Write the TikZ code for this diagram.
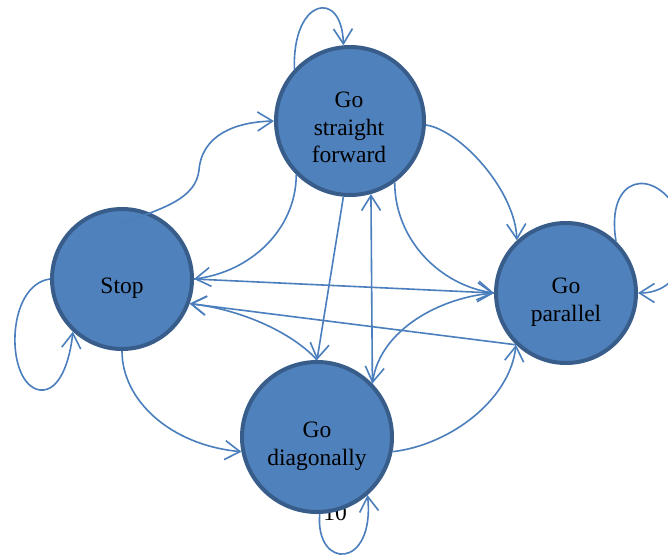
\documentclass[tikz,border=0pt]{standalone}
\usepackage{fontspec}
\setmainfont{Liberation Serif}
\usetikzlibrary{arrows.meta,calc}
\definecolor{stfill}{RGB}{79,129,189}
\definecolor{stedge}{RGB}{56,93,138}
\definecolor{arcblue}{RGB}{74,126,189}
\begin{document}
\begin{tikzpicture}[x=1pt,y=-1pt,
  state/.style={circle,draw=stedge,fill=stfill,line width=4pt,inner sep=0pt},
  stname/.style={align=center,font=\fontsize{23.5}{27.5}\selectfont,inner sep=0pt},
  conn/.style={draw=arcblue,line width=1.6pt,-{Straight Barb[length=15pt,width=19pt]}}]
\useasboundingbox (0,0) rectangle (668,555);
\clip (0,0) rectangle (668,555);
\fill[white] (0,0) rectangle (668,555);

% page number, partly hidden behind the lower state
\node[stname,anchor=base] (pageno) at (335,520) {10};

% states
\node[state,minimum size=140pt] (stop) at (122,279) {};
\node[state,minimum size=148pt] (sf)   at (350,121) {};
\node[state,minimum size=140pt] (par)  at (566,293) {};
\node[state,minimum size=150pt] (diag) at (317,437) {};

% self loops
\draw[conn] (sf.137) .. controls (292,-2) and (342,-12) .. (sf.95);
\draw[conn] (stop.180) .. controls (5,285) and (5,385) .. (40,390)
            .. controls (60,392) and (70,360) .. (stop.-133);
\draw[conn] (par.46) .. controls (605,175) and (655,165) .. (680,215)
            .. controls (695,250) and (680,293) .. (par.0);
\draw[conn] (diag.-88) .. controls (315,570) and (375,570) .. (diag.-49);

% transitions
\draw[conn] ($(stop.center)+(0,-56)$) .. controls (165,208) and (196,198) .. (199,170)
            .. controls (202,135) and (235,122) .. (sf.180);
\draw[conn] (sf.-135) .. controls (296,230) and (250,272) .. (stop.0);
\draw[conn] (stop.0) -- (par.180);
\draw[conn] (par.-134) -- (stop.-20);
\draw[conn] (diag.90) .. controls (295,335) and (245,310) .. (stop.-20);
\draw[conn] (stop.-90) .. controls (122,400) and (170,445) .. (diag.-169);
\draw[conn] (sf.-95) -- (diag.90);
\draw[conn] (diag.44) -- (sf.-74);
\draw[conn] (par.180) .. controls (440,297) and (380,330) .. (diag.44);
\draw[conn] (diag.-11) .. controls (450,445) and (510,400) .. (par.-134);
\draw[conn] (sf.-3) .. controls (460,130) and (515,190) .. (par.133);
\draw[conn] (sf.-54) .. controls (395,240) and (440,285) .. (par.180);

% state names
\node[stname] (stop-name) at (122,288)   {Stop};
\node[stname] (sf-name)   at (349,127.5) {Go\\straight\\forward};
\node[stname] (par-name)  at (566,302)   {Go\\parallel};
\node[stname] (diag-name) at (317,446)   {Go\\diagonally};
\end{tikzpicture}
\end{document}
